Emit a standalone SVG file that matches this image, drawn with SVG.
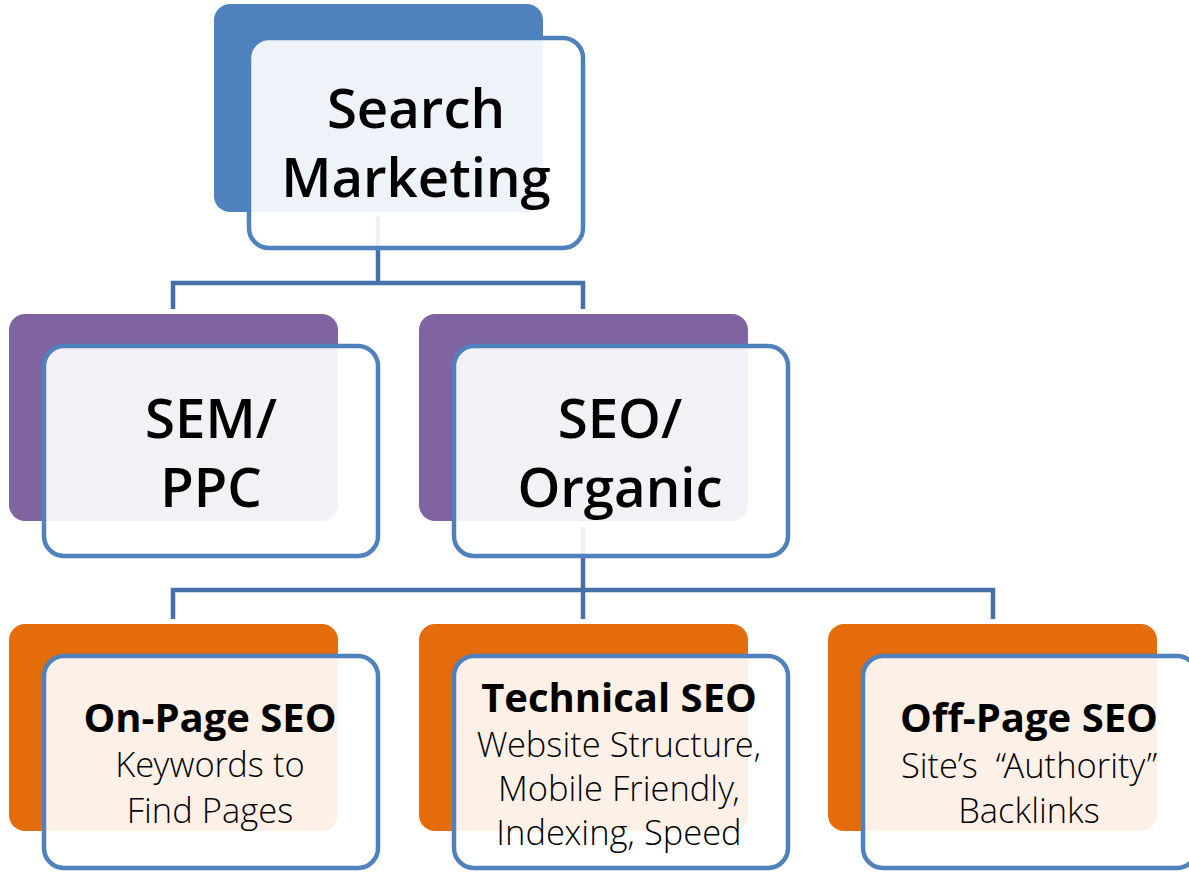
<svg xmlns="http://www.w3.org/2000/svg" width="1189" height="872" viewBox="0 0 1189 872">
  <style>
    .back { stroke: none; }
    .blue { fill: #4F81BD; }
    .purple { fill: #8064A2; }
    .orange { fill: #E46C0A; }
    .front { fill: #FFFFFF; fill-opacity: 0.9; stroke: #4F81BD; stroke-width: 4.5; }
    .conn { fill: none; stroke: #4671A8; stroke-width: 4.5; stroke-linejoin: miter; }
    .big { font-family: "Open Sans", "Noto Sans", "Liberation Sans", sans-serif; font-weight: 600; font-size: 54.5px; fill: #000; text-anchor: middle; }
    .title { font-family: "Open Sans", "Noto Sans", "Liberation Sans", sans-serif; font-weight: 700; font-size: 40px; fill: #000; text-anchor: middle; }
    .sub { font-family: "Open Sans Light", "Open Sans", "Noto Sans", "Liberation Sans", sans-serif; font-weight: 300; font-size: 34.5px; fill: #000; text-anchor: middle; }
  </style>

  <!-- back plates sit beneath the connectors -->
  <g id="plates">
    <rect class="back blue" x="214" y="4" width="329" height="208" rx="16"/>
    <rect class="back purple" x="9" y="314" width="329" height="207" rx="16"/>
    <rect class="back purple" x="419" y="314" width="329" height="207" rx="16"/>
    <rect class="back orange" x="9" y="624" width="329" height="207" rx="16"/>
    <rect class="back orange" x="419" y="624" width="329" height="207" rx="16"/>
    <rect class="back orange" x="828" y="624" width="329" height="207" rx="16"/>
  </g>

  <g id="connectors">
    <path class="conn" d="M378 217 V283 M173 309 V283 H583 V309"/>
    <path class="conn" d="M583 527 V590 M173 619 V590 H993 V619 M583 590 V619"/>
  </g>

  <g id="node-search-marketing">
    <rect class="front" x="249" y="38" width="334" height="210" rx="20"/>
    <text class="big" x="416" y="128">Search</text>
    <text class="big" x="416" y="197">Marketing</text>
  </g>

  <g id="node-sem-ppc">
    <rect class="front" x="44" y="346" width="334" height="210" rx="20"/>
    <text class="big" x="211" y="438">SEM/</text>
    <text class="big" x="211" y="507">PPC</text>
  </g>

  <g id="node-seo-organic">
    <rect class="front" x="454" y="346" width="334" height="210" rx="20"/>
    <text class="big" x="620" y="438">SEO/</text>
    <text class="big" x="620" y="507">Organic</text>
  </g>

  <g id="node-on-page">
    <rect class="front" x="44" y="656" width="334" height="212" rx="20"/>
    <text class="title" x="210" y="732">On-Page SEO</text>
    <text class="sub" x="210" y="777">Keywords to</text>
    <text class="sub" x="210" y="823">Find Pages</text>
  </g>

  <g id="node-technical">
    <rect class="front" x="454" y="656" width="334" height="212" rx="20"/>
    <text class="title" x="619" y="712">Technical SEO</text>
    <text class="sub" x="619" y="757">Website Structure,</text>
    <text class="sub" x="619" y="801">Mobile Friendly,</text>
    <text class="sub" x="619" y="845">Indexing, Speed</text>
  </g>

  <g id="node-off-page">
    <rect class="front" x="863" y="656" width="334" height="212" rx="20"/>
    <text class="title" x="1029" y="732">Off-Page SEO</text>
    <text class="sub" x="1029" y="778" xml:space="preserve">Site’s  “Authority”</text>
    <text class="sub" x="1029" y="823">Backlinks</text>
  </g>
</svg>
